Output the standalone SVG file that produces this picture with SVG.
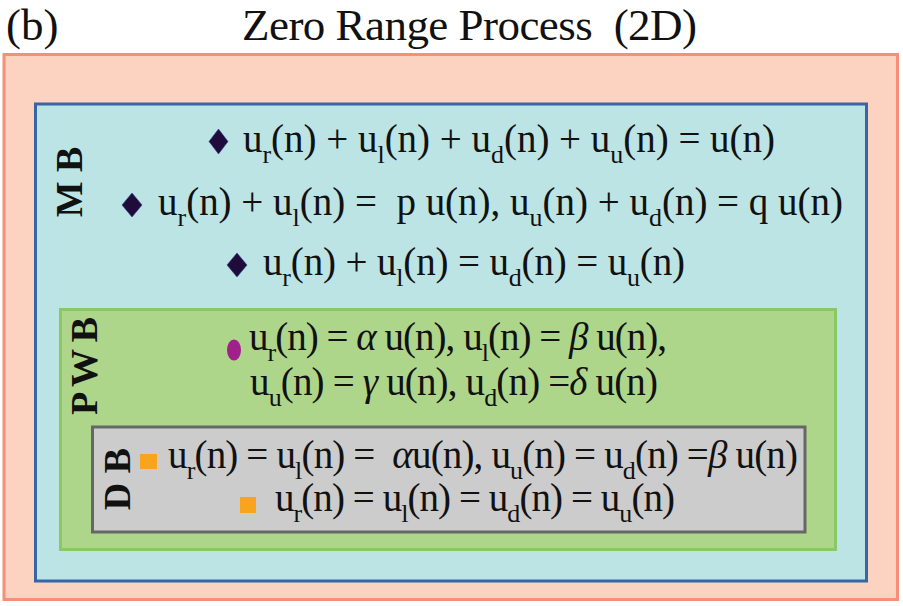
<svg xmlns="http://www.w3.org/2000/svg" width="903" height="606" viewBox="0 0 903 606">
<style>
.t{font-family:"Liberation Serif","Times New Roman",serif;fill:#111}
.eq{font-family:"Liberation Serif","Times New Roman",serif;font-size:39px;fill:#111}
.sb{font-size:26px}
.lab{font-family:"Liberation Serif","Times New Roman",serif;font-size:38px;font-weight:bold;fill:#111;text-anchor:middle}
.gr{font-style:italic}
.dia{fill:#200b3b;stroke:#2a3f8a;stroke-width:0.6}
.sq{fill:#f8a51d}
</style>
<g id="title">
<text class="t" x="6" y="40" font-size="45">(b)</text>
<text class="t" x="242" y="40" font-size="45" textLength="455">Zero Range Process&#160; (2D)</text>
</g>
<g id="zrp">
<rect x="4" y="54.5" width="893.5" height="545" fill="#fcd2c1" stroke="#f58f79" stroke-width="3"/>
</g>
<g id="mb">
<rect x="35.5" y="104" width="831" height="477" fill="#bce4e5" stroke="#3766a7" stroke-width="3"/>
<text class="lab" transform="translate(82,182) rotate(-90)">M B</text>
<path class="dia" d="M218.5 129 L228 141.5 L218.5 154 L209 141.5 Z"/>
<text class="eq" x="243" y="152" textLength="532">u<tspan class="sb" dy="11">r</tspan><tspan dy="-11">(n) + u</tspan><tspan class="sb" dy="11">l</tspan><tspan dy="-11">(n) + u</tspan><tspan class="sb" dy="11">d</tspan><tspan dy="-11">(n) + u</tspan><tspan class="sb" dy="11">u</tspan><tspan dy="-11">(n) = u(n)</tspan></text>
<path class="dia" d="M132 193 L142 205 L132 217 L122 205 Z"/>
<text class="eq" x="158" y="215" textLength="685">u<tspan class="sb" dy="11">r</tspan><tspan dy="-11">(n) + u</tspan><tspan class="sb" dy="11">l</tspan><tspan dy="-11">(n) =&#160; p u(n), u</tspan><tspan class="sb" dy="11">u</tspan><tspan dy="-11">(n) + u</tspan><tspan class="sb" dy="11">d</tspan><tspan dy="-11">(n) = q u(n)</tspan></text>
<path class="dia" d="M237 253 L247 265 L237 277 L227 265 Z"/>
<text class="eq" x="263" y="275" textLength="422">u<tspan class="sb" dy="11">r</tspan><tspan dy="-11">(n) + u</tspan><tspan class="sb" dy="11">l</tspan><tspan dy="-11">(n) = u</tspan><tspan class="sb" dy="11">d</tspan><tspan dy="-11">(n) = u</tspan><tspan class="sb" dy="11">u</tspan><tspan dy="-11">(n)</tspan></text>
</g>
<g id="pwb">
<rect x="60.5" y="309.5" width="775" height="240" fill="#aed68a" stroke="#88c966" stroke-width="3"/>
<text class="lab" transform="translate(97,366) rotate(-90)" textLength="98">P W B</text>
<ellipse cx="234" cy="350" rx="7" ry="10.5" fill="#a0208c"/>
<text class="eq" x="249" y="350" textLength="418">u<tspan class="sb" dy="11">r</tspan><tspan dy="-11">(n) = </tspan><tspan class="gr">α</tspan><tspan> u(n), u</tspan><tspan class="sb" dy="11">l</tspan><tspan dy="-11">(n) = </tspan><tspan class="gr">β</tspan><tspan> u(n),</tspan></text>
<text class="eq" x="250" y="395" textLength="408">u<tspan class="sb" dy="11">u</tspan><tspan dy="-11">(n) = </tspan><tspan class="gr">γ</tspan><tspan> u(n), u</tspan><tspan class="sb" dy="11">d</tspan><tspan dy="-11">(n) =</tspan><tspan class="gr">δ</tspan><tspan> u(n)</tspan></text>
</g>
<g id="db">
<rect x="92.5" y="427" width="712.5" height="105" fill="#cccccc" stroke="#666666" stroke-width="3"/>
<text class="lab" transform="translate(130,479) rotate(-90)">D B</text>
<rect class="sq" x="140" y="454" width="17" height="15"/>
<text class="eq" x="168" y="468" textLength="630">u<tspan class="sb" dy="11">r</tspan><tspan dy="-11">(n) = u</tspan><tspan class="sb" dy="11">l</tspan><tspan dy="-11">(n) =&#160; </tspan><tspan class="gr">α</tspan><tspan>u(n), u</tspan><tspan class="sb" dy="11">u</tspan><tspan dy="-11">(n) = u</tspan><tspan class="sb" dy="11">d</tspan><tspan dy="-11">(n) =</tspan><tspan class="gr">β</tspan><tspan> u(n)</tspan></text>
<rect class="sq" x="240" y="497" width="16" height="16"/>
<text class="eq" x="275" y="511" textLength="400">u<tspan class="sb" dy="11">r</tspan><tspan dy="-11">(n) = u</tspan><tspan class="sb" dy="11">l</tspan><tspan dy="-11">(n) = u</tspan><tspan class="sb" dy="11">d</tspan><tspan dy="-11">(n) = u</tspan><tspan class="sb" dy="11">u</tspan><tspan dy="-11">(n)</tspan></text>
</g>
</svg>
